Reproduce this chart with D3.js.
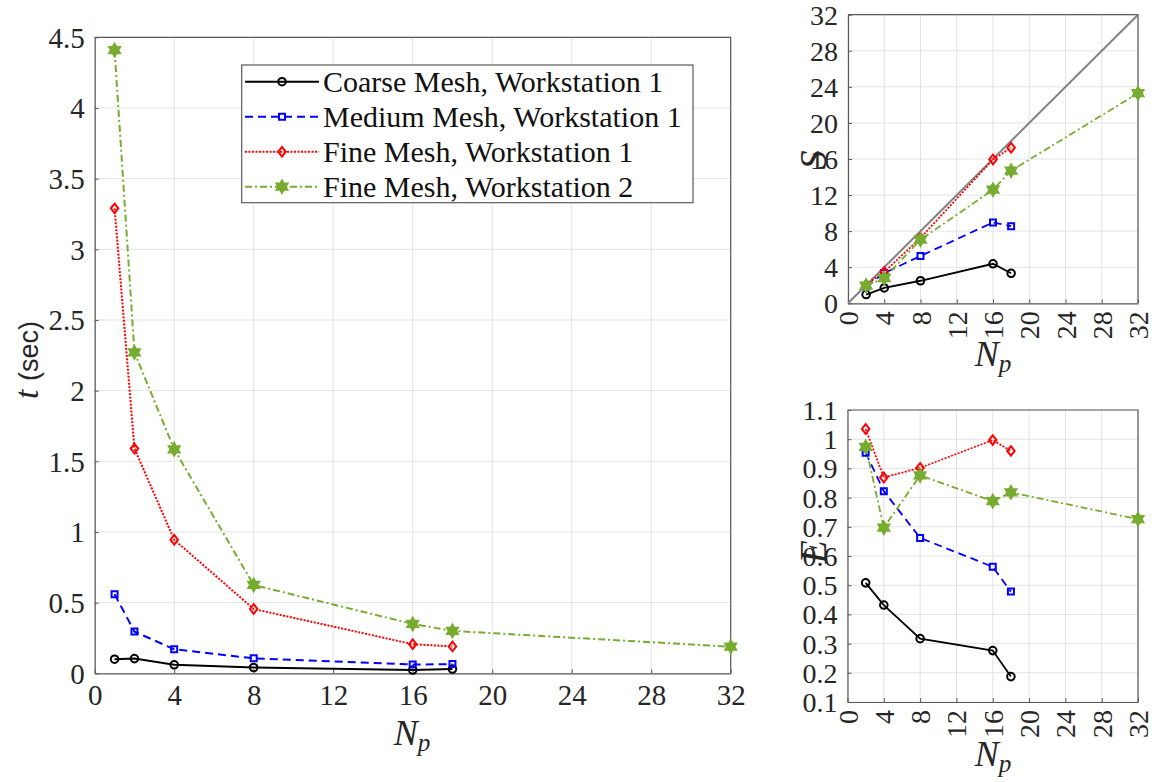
<!DOCTYPE html>
<html>
<head>
<meta charset="utf-8">
<script src="https://cdn.jsdelivr.net/npm/d3@7"></script>
<style>
  html, body { margin: 0; padding: 0; background: #fff; }
  svg { display: block; }
</style>
</head>
<body>
<svg id="chart" width="1160" height="782"></svg>
<script>
// ---- Data ----------------------------------------------------------------
const npMain   = [1, 2, 4, 8, 16, 18];
const npMain32 = [1, 2, 4, 8, 16, 18, 32];
const npRatio   = [2, 4, 8, 16, 18];
const npRatio32 = [2, 4, 8, 16, 18, 32];

// run time t (sec)
const tCoarseW1 = [0.100, 0.104, 0.060, 0.041, 0.023, 0.030];
const tMediumW1 = [0.560, 0.295, 0.170, 0.106, 0.062, 0.065];
const tFineW1   = [3.29, 1.59, 0.945, 0.455, 0.206, 0.190];
const tFineW2   = [4.41, 2.27, 1.585, 0.625, 0.349, 0.300, 0.188];

// speed-up S
const sCoarseW1 = [0.97, 1.70, 2.50, 4.38, 3.33];
const sMediumW1 = [1.90, 3.35, 5.25, 8.97, 8.55];
const sFineW1   = [2.07, 3.48, 7.25, 15.95, 17.25];
const sFineW2   = [1.95, 2.80, 7.05, 12.6, 14.7, 23.3];

// efficiency E
const eCoarseW1 = [0.508, 0.432, 0.317, 0.276, 0.187];
const eMediumW1 = [0.954, 0.822, 0.662, 0.563, 0.478];
const eFineW1   = [1.035, 0.869, 0.902, 0.997, 0.960];
const eFineW2   = [0.974, 0.697, 0.876, 0.788, 0.818, 0.726];

const seriesNames = [
  "Coarse Mesh, Workstation 1",
  "Medium Mesh, Workstation 1",
  "Fine Mesh, Workstation 1",
  "Fine Mesh, Workstation 2"
];

const xTicks = [0, 4, 8, 12, 16, 20, 24, 28, 32];
const tTicks = [0, 0.5, 1, 1.5, 2, 2.5, 3, 3.5, 4, 4.5];
const sTicks = [0, 4, 8, 12, 16, 20, 24, 28, 32];
const eTicks = [0.1, 0.2, 0.3, 0.4, 0.5, 0.6, 0.7, 0.8, 0.9, 1, 1.1];
const idealLine = [0, 32];

// ---- Styles ----------------------------------------------------------------
const SERIF = "'Liberation Serif', 'Times New Roman', serif";
const SANS = "'Liberation Sans', Arial, sans-serif";

const hexagram = {
  draw(ctx, size) {
    const r = Math.sqrt(size) * 0.75, ri = r / Math.sqrt(3);
    for (let i = 0; i < 12; i++) {
      const a = -Math.PI / 2 + i * Math.PI / 6;
      const rr = i % 2 === 0 ? r : ri;
      const x = rr * Math.cos(a), y = rr * Math.sin(a);
      if (i === 0) ctx.moveTo(x, y); else ctx.lineTo(x, y);
    }
    ctx.closePath();
  }
};
const diamond = {
  draw(ctx, size) {
    const h = Math.sqrt(size) * 0.62, w = h * 0.78;
    ctx.moveTo(0, -h); ctx.lineTo(w, 0); ctx.lineTo(0, h); ctx.lineTo(-w, 0); ctx.closePath();
  }
};
const styles = [
  { color: "#000000", dash: null,        symbol: d3.symbolCircle, size: 45, fill: "none" },
  { color: "#0000ff", dash: "8,5",       symbol: d3.symbolSquare, size: 36, fill: "none" },
  { color: "#ff0000", dash: "2,1.5",     symbol: diamond,         size: 60, fill: "none" },
  { color: "#77ac30", dash: "7,3,2,3",   symbol: hexagram,        size: 70, fill: "#77ac30" }
];

const svg = d3.select("#chart");
const gridColor = "#e3e3e3";
const axisColor = "#5a5a5a";

function panel(opt) {
  const { x0, x1, y0, y1, xDomain, yDomain, xt, yt, yFmt, rotateX, fs } = opt;
  const x = d3.scaleLinear().domain(xDomain).range([x0, x1]);
  const y = d3.scaleLinear().domain(yDomain).range([y1, y0]);
  const g = svg.append("g");

  // grid
  g.append("g").selectAll("line").data(xt).join("line")
    .attr("x1", d => x(d)).attr("x2", d => x(d)).attr("y1", y0).attr("y2", y1)
    .attr("stroke", gridColor).attr("stroke-width", 1);
  g.append("g").selectAll("line").data(yt).join("line")
    .attr("y1", d => y(d)).attr("y2", d => y(d)).attr("x1", x0).attr("x2", x1)
    .attr("stroke", gridColor).attr("stroke-width", 1);

  // axes
  const xa = g.append("g").attr("transform", `translate(0,${y1})`)
    .call(d3.axisBottom(x).tickValues(xt).tickSize(-4).tickSizeOuter(0).tickPadding(0).tickFormat(d3.format("d")));
  const ya = g.append("g").attr("transform", `translate(${x0},0)`)
    .call(d3.axisLeft(y).tickValues(yt).tickSize(-4).tickSizeOuter(0).tickPadding(10).tickFormat(yFmt));
  [xa, ya].forEach(a => {
    a.attr("font-family", null).attr("font-size", null);
    a.select(".domain").attr("stroke", axisColor).attr("stroke-width", 1.2);
    a.selectAll(".tick line").attr("stroke", axisColor);
    a.selectAll(".tick text").style("font-family", SERIF).style("font-size", fs + "px").attr("fill", "#262626");
  });
  ya.selectAll(".tick text").attr("dy", "0.34em");
  if (rotateX) {
    xa.selectAll(".tick text")
      .attr("text-anchor", "end").attr("dy", "0.34em")
      .attr("transform", "translate(0,8) rotate(-90)").attr("x", 0).attr("y", 0);
  } else {
    xa.selectAll(".tick text").attr("dy", "1.1em");
  }
  // box top/right
  g.append("path").attr("d", `M${x0},${y0}H${x1}V${y1}`)
    .attr("fill", "none").attr("stroke", axisColor).attr("stroke-width", 1.2);
  return { x, y, g };
}

function drawSeries(p, xs, ys, st, lw) {
  const line = d3.line().x((d, i) => p.x(xs[i])).y(d => p.y(d));
  p.g.append("path").datum(ys).attr("d", line)
    .attr("fill", "none").attr("stroke", st.color).attr("stroke-width", lw)
    .attr("stroke-dasharray", st.dash);
  p.g.append("g").selectAll("path").data(ys).join("path")
    .attr("transform", (d, i) => `translate(${p.x(xs[i])},${p.y(d)})`)
    .attr("d", d3.symbol().type(st.symbol).size(st.size))
    .attr("fill", st.fill).attr("stroke", st.color).attr("stroke-width", 2);
}

function npLabel(cx, baseline, size) {
  const t = svg.append("text").attr("x", cx).attr("y", baseline)
    .attr("text-anchor", "middle").style("font-family", SERIF).style("font-size", size + "px")
    .attr("font-style", "italic").attr("fill", "#262626");
  t.append("tspan").text("N");
  t.append("tspan").style("font-size", (size * 0.7) + "px").attr("dy", size * 0.18).text("p");
}

function yLabel(x, y, txt, size) {
  svg.append("text").attr("transform", `translate(${x},${y}) rotate(-90)`)
    .attr("text-anchor", "middle").style("font-family", SERIF).style("font-size", size + "px")
    .attr("font-style", "italic").attr("fill", "#262626").text(txt);
}

// ---- Main panel: run time --------------------------------------------------
const pMain = panel({ x0: 94.7, x1: 730.7, y0: 37.3, y1: 673.3, xDomain: [0, 32], yDomain: [0, 4.5],
  xt: xTicks, yt: tTicks, yFmt: d => d3.format("")(d), rotateX: false, fs: 29 });
drawSeries(pMain, npMain,   tCoarseW1, styles[0], 2);
drawSeries(pMain, npMain,   tMediumW1, styles[1], 2);
drawSeries(pMain, npMain,   tFineW1,   styles[2], 2);
drawSeries(pMain, npMain32, tFineW2,   styles[3], 2);
npLabel(412, 745, 36);
{
  const t = svg.append("text").attr("transform", "translate(38,360) rotate(-90)")
    .attr("text-anchor", "middle").attr("fill", "#262626");
  t.append("tspan").style("font-family", SERIF).style("font-size", "34px").attr("font-style", "italic").text("t ");
  t.append("tspan").style("font-family", SANS).style("font-size", "27px").text("(sec)");
}

// legend
{
  const lg = svg.append("g");
  lg.append("rect").attr("x", 241.7).attr("y", 65).attr("width", 451.3).attr("height", 137.7)
    .attr("fill", "#fff").attr("stroke", axisColor).attr("stroke-width", 1.2);
  seriesNames.forEach((name, i) => {
    const yy = 81.7 + i * 35;
    const st = styles[i];
    lg.append("line").attr("x1", 245).attr("x2", 319).attr("y1", yy).attr("y2", yy)
      .attr("stroke", st.color).attr("stroke-width", 2).attr("stroke-dasharray", st.dash);
    lg.append("path").attr("transform", `translate(282,${yy})`)
      .attr("d", d3.symbol().type(st.symbol).size(st.size))
      .attr("fill", st.fill).attr("stroke", st.color).attr("stroke-width", 2);
    lg.append("text").attr("x", 323).attr("y", yy).attr("dy", "0.34em")
      .style("font-family", SERIF).style("font-size", "30px").attr("fill", "#111").text(name);
  });
}

// ---- Speed-up panel ----------------------------------------------------------
const pS = panel({ x0: 848, x1: 1138, y0: 14.7, y1: 303.3, xDomain: [0, 32], yDomain: [0, 32],
  xt: xTicks, yt: sTicks, yFmt: d3.format("d"), rotateX: true, fs: 28 });
pS.g.append("path").datum(idealLine)
  .attr("d", d3.line().x(d => pS.x(d)).y(d => pS.y(d)))
  .attr("stroke", "#808080").attr("stroke-width", 2).attr("fill", "none");
drawSeries(pS, npRatio,   sCoarseW1, styles[0], 1.8);
drawSeries(pS, npRatio,   sMediumW1, styles[1], 1.8);
drawSeries(pS, npRatio,   sFineW1,   styles[2], 1.8);
drawSeries(pS, npRatio32, sFineW2,   styles[3], 1.8);
npLabel(993, 366, 36);
yLabel(826, 160, "S", 38);

// ---- Efficiency panel -------------------------------------------------------
const pE = panel({ x0: 847.5, x1: 1138, y0: 410, y1: 702, xDomain: [0, 32], yDomain: [0.1, 1.1],
  xt: xTicks, yt: eTicks, yFmt: d => d3.format("")(+d.toFixed(1)), rotateX: true, fs: 28 });
drawSeries(pE, npRatio,   eCoarseW1, styles[0], 1.8);
drawSeries(pE, npRatio,   eMediumW1, styles[1], 1.8);
drawSeries(pE, npRatio,   eFineW1,   styles[2], 1.8);
drawSeries(pE, npRatio32, eFineW2,   styles[3], 1.8);
npLabel(993, 766, 36);
yLabel(826, 552, "E", 38);
</script>
</body>
</html>
